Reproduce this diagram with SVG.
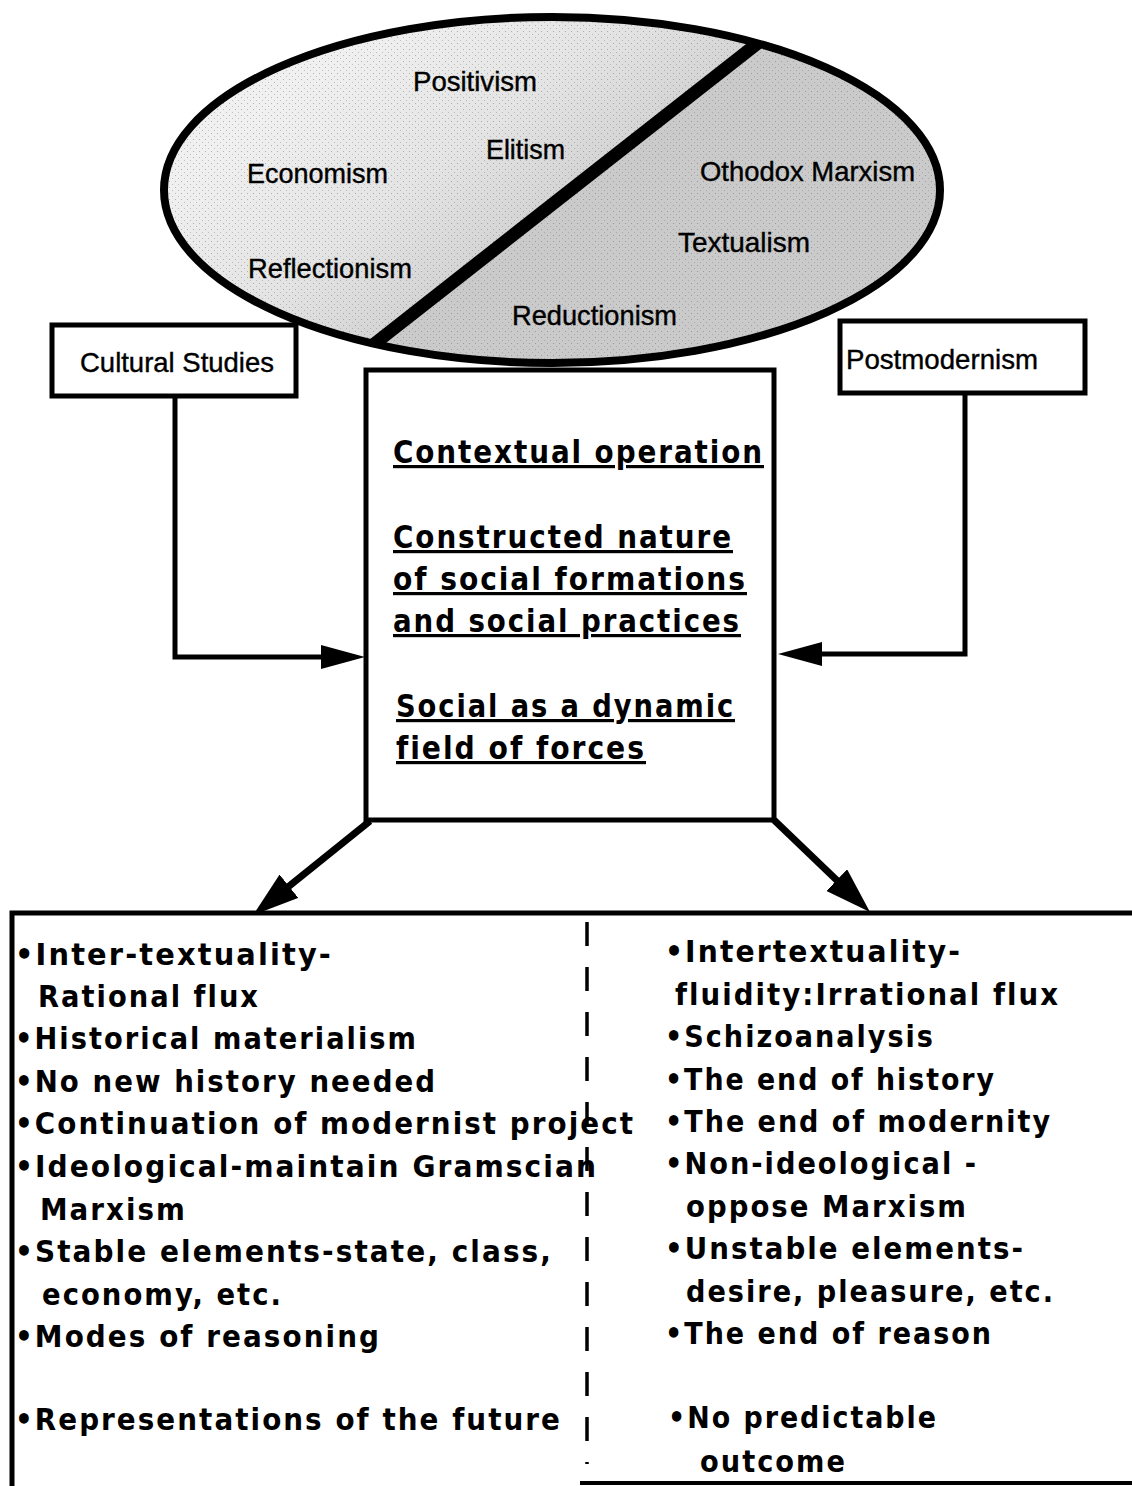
<svg xmlns="http://www.w3.org/2000/svg" width="1132" height="1486" viewBox="0 0 1132 1486">
<style>
.lbl{font-family:"Liberation Sans",Arial,sans-serif;font-size:28px;fill:#000;stroke:#000;stroke-width:0.4}
.ctr{font-family:"DejaVu Sans Condensed","DejaVu Sans",sans-serif;font-weight:bold;font-size:32px;fill:#000;text-decoration:underline;letter-spacing:2px}
.itm{font-family:"DejaVu Sans Condensed","DejaVu Sans",sans-serif;font-weight:bold;font-size:30px;fill:#000;letter-spacing:2px}
.box{fill:#fff;stroke:#000;stroke-width:5}
.con{fill:none;stroke:#000;stroke-width:5}
.dia{fill:none;stroke:#000;stroke-width:7}
</style>
<defs>
<clipPath id="ell"><ellipse cx="552" cy="190" rx="388" ry="173"/></clipPath>
<linearGradient id="lg" gradientUnits="userSpaceOnUse" x1="570" y1="190" x2="417" y2="-8">
<stop offset="0" stop-color="#d4d4d4"/><stop offset="0.4" stop-color="#e4e4e4"/><stop offset="1" stop-color="#f0f0f0"/>
</linearGradient>
<pattern id="dots" width="6" height="6" patternUnits="userSpaceOnUse">
<rect x="1" y="1" width="1" height="1" fill="#555"/><rect x="4" y="4" width="1" height="1" fill="#777"/>
</pattern>
<marker id="ah1" markerUnits="userSpaceOnUse" markerWidth="44" markerHeight="24" refX="14" refY="12" orient="auto">
<path d="M0,0 L44,12 L0,24 Z" fill="#000"/>
</marker>
<marker id="ah2" markerUnits="userSpaceOnUse" markerWidth="46" markerHeight="30" refX="16" refY="15" orient="auto">
<path d="M0,0 L46,15 L0,30 Z" fill="#000"/>
</marker>
</defs>
<rect width="1132" height="1486" fill="#fff"/>

<g id="ellipse-node">
<g clip-path="url(#ell)">
<polygon points="0,0 809,0 307,400 0,400" fill="url(#lg)"/>
<polygon points="809,0 1132,0 1132,400 307,400" fill="#cacaca"/>
<rect x="0" y="0" width="1132" height="400" fill="url(#dots)" opacity="0.4"/>
<line x1="772" y1="32" x2="364" y2="352" stroke="#000" stroke-width="13"/>
</g>
<ellipse cx="552" cy="190" rx="388" ry="173" fill="none" stroke="#000" stroke-width="8"/>
<text class="lbl" x="413" y="91" textLength="124" lengthAdjust="spacingAndGlyphs">Positivism</text>
<text class="lbl" x="486" y="159" textLength="79" lengthAdjust="spacingAndGlyphs">Elitism</text>
<text class="lbl" x="247" y="183" textLength="141" lengthAdjust="spacingAndGlyphs">Economism</text>
<text class="lbl" x="700" y="181" textLength="215" lengthAdjust="spacingAndGlyphs">Othodox Marxism</text>
<text class="lbl" x="678" y="252" textLength="132" lengthAdjust="spacingAndGlyphs">Textualism</text>
<text class="lbl" x="248" y="278" textLength="164" lengthAdjust="spacingAndGlyphs">Reflectionism</text>
<text class="lbl" x="512" y="325" textLength="165" lengthAdjust="spacingAndGlyphs">Reductionism</text>
</g>

<g id="cultural-studies">
<rect class="box" x="52" y="325" width="244" height="71"/>
<text class="lbl" x="80" y="372" textLength="194" lengthAdjust="spacingAndGlyphs">Cultural Studies</text>
</g>

<g id="postmodernism">
<rect class="box" x="840" y="321" width="245" height="72"/>
<text class="lbl" x="846" y="369" textLength="192" lengthAdjust="spacingAndGlyphs">Postmodernism</text>
</g>

<g id="center-box">
<rect class="box" x="366" y="370" width="408" height="450"/>
<text class="ctr" x="393" y="463" textLength="371" lengthAdjust="spacingAndGlyphs">Contextual operation</text>
<text class="ctr" x="393" y="548" textLength="340" lengthAdjust="spacingAndGlyphs">Constructed nature</text>
<text class="ctr" x="393" y="590" textLength="354" lengthAdjust="spacingAndGlyphs">of social formations</text>
<text class="ctr" x="393" y="632" textLength="348" lengthAdjust="spacingAndGlyphs">and social practices</text>
<text class="ctr" x="396" y="717" textLength="339" lengthAdjust="spacingAndGlyphs">Social as a dynamic</text>
<text class="ctr" x="396" y="759" textLength="250" lengthAdjust="spacingAndGlyphs">field of forces</text>
</g>

<g id="bottom-box">
<path d="M12,1486 V913 H1132" fill="none" stroke="#000" stroke-width="5"/>
<path d="M580,1483 H1132" fill="none" stroke="#000" stroke-width="4"/>
<line x1="587" y1="922" x2="587" y2="1464" stroke="#000" stroke-width="3.5" stroke-dasharray="24 21"/>
<g id="left-column">
<text class="itm" x="15" y="965" textLength="318" lengthAdjust="spacingAndGlyphs">•Inter-textuality-</text>
<text class="itm" x="38" y="1007" textLength="222" lengthAdjust="spacingAndGlyphs">Rational flux</text>
<text class="itm" x="15" y="1049" textLength="403" lengthAdjust="spacingAndGlyphs">•Historical materialism</text>
<text class="itm" x="15" y="1092" textLength="422" lengthAdjust="spacingAndGlyphs">•No new history needed</text>
<text class="itm" x="15" y="1134" textLength="620" lengthAdjust="spacingAndGlyphs">•Continuation of modernist project</text>
<text class="itm" x="15" y="1177" textLength="583" lengthAdjust="spacingAndGlyphs">•Ideological-maintain Gramscian</text>
<text class="itm" x="40" y="1220" textLength="147" lengthAdjust="spacingAndGlyphs">Marxism</text>
<text class="itm" x="15" y="1262" textLength="538" lengthAdjust="spacingAndGlyphs">•Stable elements-state, class,</text>
<text class="itm" x="42" y="1305" textLength="241" lengthAdjust="spacingAndGlyphs">economy, etc.</text>
<text class="itm" x="15" y="1347" textLength="366" lengthAdjust="spacingAndGlyphs">•Modes of reasoning</text>
<text class="itm" x="15" y="1430" textLength="547" lengthAdjust="spacingAndGlyphs">•Representations of the future</text>
</g>
<g id="right-column">
<text class="itm" x="665" y="962" textLength="297" lengthAdjust="spacingAndGlyphs">•Intertextuality-</text>
<text class="itm" x="675" y="1005" textLength="385" lengthAdjust="spacingAndGlyphs">fluidity:Irrational flux</text>
<text class="itm" x="665" y="1047" textLength="270" lengthAdjust="spacingAndGlyphs">•Schizoanalysis</text>
<text class="itm" x="665" y="1090" textLength="331" lengthAdjust="spacingAndGlyphs">•The end of history</text>
<text class="itm" x="665" y="1132" textLength="387" lengthAdjust="spacingAndGlyphs">•The end of modernity</text>
<text class="itm" x="665" y="1174" textLength="313" lengthAdjust="spacingAndGlyphs">•Non-ideological -</text>
<text class="itm" x="686" y="1217" textLength="282" lengthAdjust="spacingAndGlyphs">oppose Marxism</text>
<text class="itm" x="665" y="1259" textLength="360" lengthAdjust="spacingAndGlyphs">•Unstable elements-</text>
<text class="itm" x="686" y="1302" textLength="369" lengthAdjust="spacingAndGlyphs">desire, pleasure, etc.</text>
<text class="itm" x="665" y="1344" textLength="328" lengthAdjust="spacingAndGlyphs">•The end of reason</text>
<text class="itm" x="668" y="1428" textLength="270" lengthAdjust="spacingAndGlyphs">•No predictable</text>
<text class="itm" x="700" y="1472" textLength="147" lengthAdjust="spacingAndGlyphs">outcome</text>
</g>
</g>

<g id="connectors">
<path class="con" d="M175,397 V657 H335" marker-end="url(#ah1)"/>
<path class="con" d="M965,393 V654 H808" marker-end="url(#ah1)"/>
<path class="dia" d="M370,821 L276.5,896.3" marker-end="url(#ah2)"/>
<path class="dia" d="M774,820 L848.3,891.2" marker-end="url(#ah2)"/>
</g>
</svg>
